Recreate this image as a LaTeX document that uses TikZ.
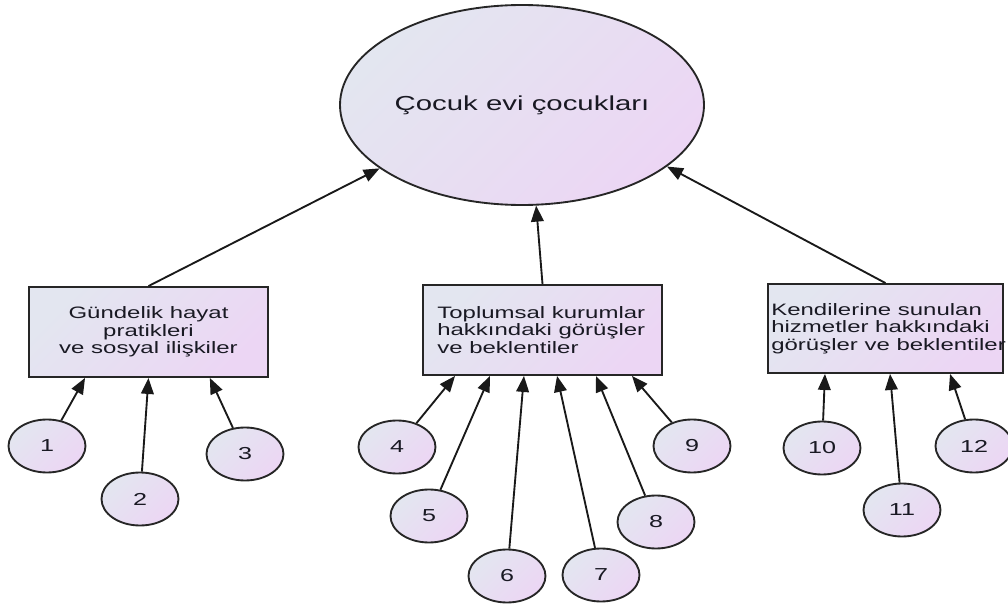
\documentclass[tikz,border=0pt]{standalone}
\usepackage{fontspec}
\setmainfont[FakeStretch=1.45]{Liberation Sans}
\usetikzlibrary{arrows.meta,shapes.geometric}
\definecolor{gA}{RGB}{227,230,240}
\definecolor{gB}{RGB}{236,214,244}
\definecolor{ink}{RGB}{25,25,35}
\tikzset{
  grad/.style={top color=gA, bottom color=gB, shading angle=45, draw=black!85, line width=1.4pt},
  bubble/.style={grad, ellipse, minimum width=57.75pt, minimum height=39.75pt, inner sep=0pt,
    font=\fontsize{13}{15}\selectfont, text=ink},
  boxnode/.style={grad, rectangle, inner sep=0pt},
  boxtext/.style={font=\fontsize{12.4}{13.3}\selectfont, text=ink, inner sep=0pt},
  arr/.style={line width=1.4pt, draw=black!90, -{Triangle[length=12pt,width=9.5pt]}}
}
\begin{document}
\begin{tikzpicture}[x=0.75pt,y=-0.75pt]
\useasboundingbox (0,0) rectangle (1008,606);
% top ellipse
\node[grad, ellipse, minimum width=273pt, minimum height=150pt, inner sep=0pt,
  font=\fontsize{15.2}{17}\selectfont, text=ink] (top) at (522,105) {Çocuk evi çocukları};
% boxes
\node[boxnode, minimum width=179.25pt, minimum height=67.5pt] (b1) at (148.5,332) {};
\node[boxnode, minimum width=179.25pt, minimum height=67.5pt] (b2) at (542.5,330) {};
\node[boxnode, minimum width=176.25pt, minimum height=66.75pt] (b3) at (885.5,328.5) {};
\node[boxtext, align=center] (t1) at (b1.center) {Gündelik hayat\\pratikleri\\ve sosyal ilişkiler};
\node[boxtext, align=left, anchor=west] (t2) at ([xshift=11.25pt]b2.west) {Toplumsal kurumlar\\hakkındaki görüşler\\ve beklentiler};
\node[boxtext, align=left, anchor=west] (t3) at ([xshift=3pt]b3.west) {Kendilerine sunulan\\hizmetler hakkındaki\\görüşler ve beklentiler};
% bubbles
\node[bubble] (c1) at (47,446) {1};
\node[bubble] (c2) at (140,499) {2};
\node[bubble] (c3) at (245,454) {3};
\node[bubble] (c4) at (397,447) {4};
\node[bubble] (c5) at (429,516) {5};
\node[bubble] (c6) at (507,576) {6};
\node[bubble] (c7) at (601,575) {7};
\node[bubble] (c8) at (656,522) {8};
\node[bubble] (c9) at (692,446) {9};
\node[bubble] (c10) at (822,448) {10};
\node[bubble] (c11) at (902,510) {11};
\node[bubble] (c12) at (974,446) {12};
% arrows to top
\draw[arr] (b1.north) -- (top.-156.4);
\draw[arr] (b2.north) -- (top.-82);
\draw[arr] (b3.north) -- (top.-23.7);
% arrows to boxes
\draw[arr] (c1) -- ([xshift=-47.6pt]b1.south);
\draw[arr] (c2) -- (b1.south);
\draw[arr] (c3) -- ([xshift=46pt]b1.south);
\draw[arr] (c4) -- ([xshift=-65.6pt]b2.south);
\draw[arr] (c5) -- ([xshift=-39.4pt]b2.south);
\draw[arr] (c6) -- ([xshift=-13.9pt]b2.south);
\draw[arr] (c7) -- ([xshift=10.9pt]b2.south);
\draw[arr] (c8) -- ([xshift=40.1pt]b2.south);
\draw[arr] (c9) -- ([xshift=67.1pt]b2.south);
\draw[arr] (c10) -- ([xshift=-45.4pt]b3.south);
\draw[arr] (c11) -- ([xshift=3.4pt]b3.south);
\draw[arr] (c12) -- ([xshift=48.4pt]b3.south);
\end{tikzpicture}
\end{document}
